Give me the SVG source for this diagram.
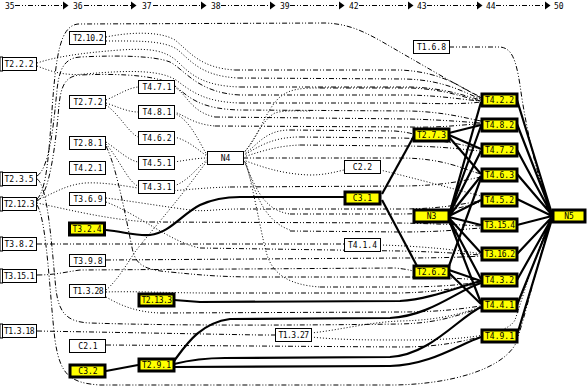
<svg xmlns="http://www.w3.org/2000/svg" width="587" height="387" viewBox="0 0 587 387">
<style>
text{font-family:"DejaVu Sans Mono","Liberation Mono",monospace;font-size:8px;fill:#000}
.s{letter-spacing:-0.55px}
.n rect{fill:#fff;stroke:#000;stroke-width:1}
.y rect{fill:#ffff00;stroke:#000;stroke-width:3}
.n text,.y text{text-anchor:middle}
.lb{fill:#000}
.e{fill:none;stroke:#000;stroke-width:1;stroke-dasharray:5 2 1 2 1 2}
.d{fill:none;stroke:#000;stroke-width:1;stroke-dasharray:1 2}
.t{fill:none;stroke:#000;stroke-width:2.2}
.ax{stroke:#000;stroke-width:1;stroke-dasharray:5 2 1 2 1 2}
</style>
<defs>
<polygon id="ah" points="0,-4 5.5,0 0,4" fill="#000"/>
</defs>
<g id="axis">
<text x="5" y="9">35</text><text x="73" y="9">36</text><text x="142" y="9">37</text><text x="211" y="9">38</text><text x="280" y="9">39</text><text x="349" y="9">42</text><text x="417" y="9">43</text><text x="486" y="9">44</text><text x="554" y="9">50</text>
<line class="ax" x1="15" y1="5.5" x2="63" y2="5.5"/><line class="ax" x1="84" y1="5.5" x2="131" y2="5.5"/><line class="ax" x1="153" y1="5.5" x2="201" y2="5.5"/><line class="ax" x1="221" y1="5.5" x2="270" y2="5.5"/><line class="ax" x1="290" y1="5.5" x2="339" y2="5.5"/><line class="ax" x1="359" y1="5.5" x2="408" y2="5.5"/><line class="ax" x1="427" y1="5.5" x2="477" y2="5.5"/><line class="ax" x1="496" y1="5.5" x2="545" y2="5.5"/>
<use href="#ah" x="63" y="5.5"/><use href="#ah" x="131" y="5.5"/><use href="#ah" x="201" y="5.5"/><use href="#ah" x="270" y="5.5"/><use href="#ah" x="339" y="5.5"/><use href="#ah" x="408" y="5.5"/><use href="#ah" x="477" y="5.5"/><use href="#ah" x="545" y="5.5"/>
</g>
<g id="connectors">
<path class="e" d="M37,199 C47,190 49,150 52,110 C56,55 60,26 78,24 L325,23 C355,24 372,36 405,55 C440,75 465,90 481,97"/>
<path class="d" d="M106,37 C130,32 160,31 175,40 C190,52 200,68 235,70"/><path class="e" d="M235,70 L400,70 C445,72 465,90 481,98"/>
<path class="d" d="M106,41 C135,41 165,40 178,50 C192,62 202,76 238,78"/><path class="e" d="M238,78 L405,79 C445,80 465,93 481,99"/>
<path class="d" d="M37,63 C55,57 80,53 120,50 C150,48 165,50 178,62 C192,76 205,86 240,87"/><path class="e" d="M240,87 L410,87 C445,88 465,96 481,100"/>
<path class="e" d="M37,176 C50,168 54,120 57,90 C59,70 64,58 80,57 C120,55 155,56 170,62 C185,70 198,93 240,95 L410,95 C445,96 465,100 481,101"/>
<path class="d" d="M37,66 C52,72 66,76 85,74 C130,70 160,70 176,80 C192,92 205,102 240,103"/><path class="e" d="M240,103 L410,103 C445,104 465,104 481,102"/>
<path class="e" d="M37,201 C50,195 56,140 59,105 C61,85 66,76 80,75 C125,73 160,76 175,86 C190,98 200,109 240,110 L410,111 C445,112 465,118 481,121"/>
<path class="d" d="M174,87 C186,92 190,112 215,117"/><path class="e" d="M215,117 L410,119 C445,120 465,122 481,123"/>
<path class="d" d="M174,112 C185,115 192,124 215,126"/><path class="e" d="M215,126 L410,127 C445,128 465,124 481,124"/>
<path class="d" d="M106,100 C118,95 128,88 138,87"/>
<path class="d" d="M106,103 C118,107 128,112 138,112"/>
<path class="d" d="M106,105 C120,115 128,132 138,137"/>
<path class="d" d="M106,142 C118,150 128,160 138,162"/>
<path class="d" d="M106,144 C120,160 128,182 138,186"/>
<path class="d" d="M174,137 C188,140 198,150 207,156"/>
<path class="d" d="M174,162 C188,160 198,158 207,158"/>
<path class="d" d="M174,186 C190,180 198,166 207,160"/>
<path class="d" d="M174,113 C190,120 198,140 207,155"/>
<path class="d" d="M243,153 C258,140 265,110 280,97 C290,89 300,88 320,88"/><path class="e" d="M320,88 L410,88 C445,89 465,98 481,101"/>
<path class="d" d="M243,154 C255,140 262,120 275,113 C285,110 295,111 310,111"/>
<path class="d" d="M243,155 C258,145 265,130 290,130"/><path class="e" d="M290,130 L395,131 C405,132 410,133 413,134"/>
<path class="d" d="M243,156 C260,145 275,137 300,137"/><path class="e" d="M300,137 L400,138 C445,139 465,146 481,149"/>
<path class="d" d="M243,157 C260,152 275,146 300,145"/><path class="e" d="M300,145 L400,146 C445,146 465,150 481,151"/>
<path class="e" d="M243,158 C270,158 290,158 400,158 C445,158 465,170 481,174"/>
<path class="d" d="M243,160 C260,166 280,174 310,175 C325,175 335,172 344,170"/>
<path class="d" d="M380,170 C410,177 450,188 481,196"/>
<path class="d" d="M244,161 C255,185 262,210 290,214"/><path class="e" d="M290,214 L400,214 C445,214 465,206 481,202"/>
<path class="d" d="M245,162 C255,190 262,220 290,230"/><path class="e" d="M290,231 L400,232 C445,232 465,229 481,228"/>
<path class="d" d="M246,163 C255,195 262,240 268,258 C275,275 290,285 320,287"/><path class="e" d="M320,287 L400,287 C445,287 465,284 481,282"/>
<path class="d" d="M37,200 C55,193 65,185 85,183 C105,182 125,186 150,190 C170,193 190,188 230,187"/><path class="e" d="M230,187 L400,186 C445,186 465,180 481,177"/>
<path class="d" d="M106,198 C130,201 160,206 190,210 C205,212 215,209 240,209"/><path class="e" d="M240,209 L400,209 C445,209 465,203 481,201"/>
<path class="d" d="M37,203 C70,210 110,220 150,222"/><path class="e" d="M150,222 L400,223 C445,224 465,225 481,226"/>
<path class="e" d="M37,244 L344,244"/>
<path class="d" d="M380,245 C420,246 460,250 481,254"/>
<path class="d" d="M106,202 C140,215 170,242 200,248"/><path class="e" d="M200,248 L400,251 C445,252 465,254 481,255"/>
<path class="e" d="M106,260 L400,258 C445,258 465,257 481,256"/>
<path class="e" d="M37,275 C55,275 65,272 80,270 L395,268 C405,269 410,270 413,271"/>
<path class="e" d="M106,146 C118,170 128,230 133,252 C137,265 145,270 170,272 C200,275 220,277 260,277 L400,277 C445,277 465,279 481,280"/>
<path class="d" d="M106,292 C135,291 170,293 210,293"/><path class="e" d="M210,293 L400,293 C445,292 465,286 481,283"/>
<path class="d" d="M106,297 C120,305 135,312 160,313"/><path class="e" d="M160,313 L400,312 C445,312 465,308 481,306"/>
<path class="d" d="M106,290 C118,280 128,262 135,252 C150,232 175,205 207,161"/>
<path class="e" d="M37,179 C48,185 52,250 56,290 C59,312 66,322 90,323 C150,325 250,326 400,324 C445,323 465,312 481,308"/>
<path class="e" d="M37,331 L260,335 L275,335"/>
<path class="d" d="M311,333 C340,330 370,322 400,321 C445,320 465,312 481,307"/>
<path class="d" d="M311,337 C340,340 370,340 400,340 C450,340 505,338 515,320 C525,290 540,240 552,218"/>
<path class="e" d="M106,345 L400,347 C445,347 465,340 481,337"/>
<path class="e" d="M37,205 C47,220 50,300 55,340 C60,375 70,383 100,385 L395,385 C450,384 500,370 515,345 C525,320 540,250 552,220"/>
<path class="e" d="M449,47 L500,47 C512,48 516,60 520,85 C526,130 540,190 552,212"/>
<path class="t" d="M106,230 C125,232 135,236 150,235 C170,233 182,214 200,205 C213,199 225,197 240,197 L344,197"/>
<path class="t" d="M382,194 L414,136"/>
<path class="t" d="M382,200 L417,266"/>
<path class="t" d="M449,133 L481,125"/>
<path class="t" d="M449,135 L481,149"/>
<path class="t" d="M449,137 L481,174"/>
<path class="t" d="M449,215 L481,102 M449,215 L481,126 M449,215 L481,151 M449,216 L481,176 M449,216 L481,200 M449,217 L481,225 M449,218 L481,253 M449,219 L481,279 M449,220 L481,303"/>
<path class="t" d="M449,270 L481,281 M449,273 L481,304 M449,266 L481,178"/>
<path class="t" d="M517,100 L552,214 M517,124 L552,214 M517,150 L552,215 M517,174 L552,215 M517,199 L552,216 M517,225 L552,216 M517,254 L552,217 M517,280 L552,218 M517,305 L552,218 M517,335 L552,219"/>
<path class="t" d="M174,300 L200,302 L400,301 C430,299 458,287 481,281"/>
<path class="t" d="M174,361 C186,345 200,323 230,319 L390,318 C430,316 458,290 481,283"/>
<path class="t" d="M174,364 C190,360 205,358 225,358 L390,357 C430,355 458,318 481,307"/>
<path class="t" d="M174,367 L390,366 C430,365 458,345 481,337"/>
<path class="t" d="M106,371 L138,365"/>
</g>
<g id="T2.2.2" class="n"><rect x="0.5" y="57.5" width="36" height="13"/><rect class="lb" x="0" y="57" width="2.5" height="14"/><text x="19" y="67">T2.2.2</text></g>
<g id="T2.3.5" class="n"><rect x="0.5" y="172.5" width="36" height="13"/><rect class="lb" x="0" y="172" width="2.5" height="14"/><text x="19" y="182">T2.3.5</text></g>
<g id="T2.12.3" class="n"><rect x="0.5" y="197.5" width="36" height="13"/><rect class="lb" x="0" y="197" width="2.5" height="14"/><text class="s" x="19" y="207">T2.12.3</text></g>
<g id="T3.8.2" class="n"><rect x="0.5" y="237.5" width="36" height="13"/><rect class="lb" x="0" y="237" width="2.5" height="14"/><text x="19" y="247">T3.8.2</text></g>
<g id="T3.15.1" class="n"><rect x="0.5" y="269.5" width="36" height="13"/><rect class="lb" x="0" y="269" width="2.5" height="14"/><text class="s" x="19" y="279">T3.15.1</text></g>
<g id="T1.3.18" class="n"><rect x="0.5" y="324.5" width="36" height="13"/><rect class="lb" x="0" y="324" width="2.5" height="14"/><text class="s" x="19" y="334">T1.3.18</text></g>
<g id="T2.10.2" class="n"><rect x="69.5" y="31.5" width="36" height="13"/><text class="s" x="88" y="41">T2.10.2</text></g>
<g id="T2.7.2" class="n"><rect x="69.5" y="95.5" width="36" height="13"/><text x="88" y="105">T2.7.2</text></g>
<g id="T2.8.1" class="n"><rect x="69.5" y="136.5" width="36" height="13"/><text x="88" y="146">T2.8.1</text></g>
<g id="T4.2.1" class="n"><rect x="69.5" y="161.5" width="36" height="13"/><text x="88" y="171">T4.2.1</text></g>
<g id="T3.6.9" class="n"><rect x="69.5" y="192.5" width="36" height="13"/><text x="88" y="202">T3.6.9</text></g>
<g id="T3.2.4" class="y"><rect x="69.5" y="223" width="35" height="12"/><text x="87" y="232">T3.2.4</text></g>
<g id="T3.9.8" class="n"><rect x="69.5" y="254.5" width="36" height="12"/><text x="88" y="263.5">T3.9.8</text></g>
<g id="T1.3.28" class="n"><rect x="69.5" y="284.5" width="36" height="13"/><text class="s" x="88" y="294">T1.3.28</text></g>
<g id="C2.1" class="n"><rect x="69.5" y="339.5" width="36" height="13"/><text x="88" y="349">C2.1</text></g>
<g id="C3.2" class="y"><rect x="70" y="365" width="35" height="12"/><text x="88" y="374">C3.2</text></g>
<g id="T4.7.1" class="n"><rect x="138.5" y="80.5" width="36" height="13"/><text x="157" y="90">T4.7.1</text></g>
<g id="T4.8.1" class="n"><rect x="138.5" y="105.5" width="36" height="13"/><text x="157" y="115">T4.8.1</text></g>
<g id="T4.6.2" class="n"><rect x="138.5" y="131.5" width="36" height="13"/><text x="157" y="141">T4.6.2</text></g>
<g id="T4.5.1" class="n"><rect x="138.5" y="156.5" width="36" height="13"/><text x="157" y="166">T4.5.1</text></g>
<g id="T4.3.1" class="n"><rect x="138.5" y="180.5" width="36" height="13"/><text x="157" y="190">T4.3.1</text></g>
<g id="T2.13.3" class="y"><rect x="139" y="294" width="35" height="12"/><text class="s" x="156.5" y="303">T2.13.3</text></g>
<g id="T2.9.1" class="y"><rect x="139" y="359" width="35" height="12"/><text x="156.5" y="368">T2.9.1</text></g>
<g id="N4" class="n"><rect x="207.5" y="151.5" width="36" height="13"/><text x="225.5" y="161">N4</text></g>
<g id="T1.3.27" class="n"><rect x="275.5" y="328.5" width="36" height="13"/><text class="s" x="293.5" y="338">T1.3.27</text></g>
<g id="C2.2" class="n"><rect x="344.5" y="160.5" width="36" height="13"/><text x="362.5" y="170">C2.2</text></g>
<g id="C3.1" class="y"><rect x="345" y="192" width="35" height="12"/><text x="362.5" y="201">C3.1</text></g>
<g id="T4.1.4" class="n"><rect x="344.5" y="238.5" width="36" height="13"/><text x="362.5" y="248">T4.1.4</text></g>
<g id="T1.6.8" class="n"><rect x="413.5" y="40.5" width="36" height="13"/><text x="431.5" y="50">T1.6.8</text></g>
<g id="T2.7.3" class="y"><rect x="414" y="129" width="35" height="12"/><text x="431.5" y="138">T2.7.3</text></g>
<g id="N3" class="y"><rect x="414" y="210" width="35" height="12"/><text x="431.5" y="219">N3</text></g>
<g id="T2.6.2" class="y"><rect x="414" y="266" width="35" height="12"/><text x="431.5" y="275">T2.6.2</text></g>
<g id="T4.2.2" class="y"><rect x="482" y="94" width="35" height="12"/><text x="499.5" y="103">T4.2.2</text></g>
<g id="T4.8.2" class="y"><rect x="482" y="119" width="35" height="12"/><text x="499.5" y="128">T4.8.2</text></g>
<g id="T4.7.2" class="y"><rect x="482" y="144" width="35" height="12"/><text x="499.5" y="153">T4.7.2</text></g>
<g id="T4.6.3" class="y"><rect x="482" y="169" width="35" height="12"/><text x="499.5" y="178">T4.6.3</text></g>
<g id="T4.5.2" class="y"><rect x="482" y="194" width="35" height="12"/><text x="499.5" y="203">T4.5.2</text></g>
<g id="T3.15.4" class="y"><rect x="482" y="219" width="35" height="12"/><text class="s" x="499.5" y="228">T3.15.4</text></g>
<g id="T3.16.2" class="y"><rect x="482" y="248" width="35" height="12"/><text class="s" x="499.5" y="257">T3.16.2</text></g>
<g id="T4.3.2" class="y"><rect x="482" y="274" width="35" height="12"/><text x="499.5" y="283">T4.3.2</text></g>
<g id="T4.4.1" class="y"><rect x="482" y="299" width="35" height="12"/><text x="499.5" y="308">T4.4.1</text></g>
<g id="T4.9.1" class="y"><rect x="482" y="330" width="35" height="12"/><text x="499.5" y="339">T4.9.1</text></g>
<g id="N5" class="y"><rect x="553" y="210" width="32" height="12"/><text x="569" y="219">N5</text></g>
</svg>
